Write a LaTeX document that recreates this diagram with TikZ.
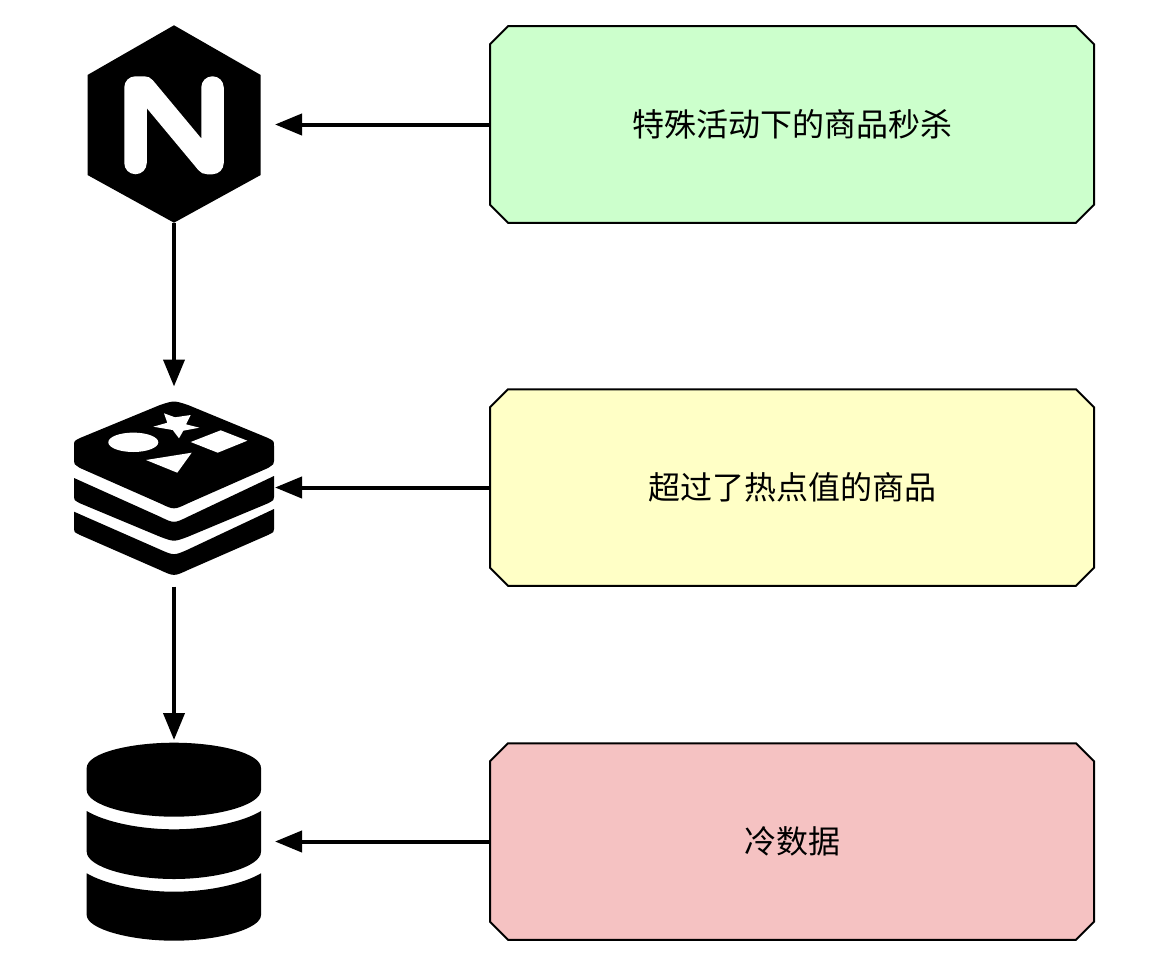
\documentclass[tikz,border=0pt]{standalone}
\usepackage{fontspec}
\usepackage{xcolor}
\usetikzlibrary{arrows.meta,shapes.misc}
\newfontfamily\cjkfont{Noto Sans CJK SC}
\definecolor{hotgreen}{HTML}{CCFFCC}
\definecolor{hotyellow}{HTML}{FFFFC6}
\definecolor{hotred}{HTML}{F5C2C2}

\begin{document}
\begin{tikzpicture}[x=1pt,y=-1pt,
    tagbox/.style={draw,line width=2pt,chamfered rectangle,chamfered rectangle xsep=9pt,chamfered rectangle ysep=9pt,minimum width=604pt,minimum height=196.5pt,inner sep=0pt,outer sep=0pt,font=\cjkfont\fontsize{32}{38}\selectfont},
    iconbox/.style={inner sep=0pt,outer sep=0pt,minimum width=202pt},
    flow/.style={line width=4pt,-{Triangle[length=27pt,width=21pt]}}]
\useasboundingbox (0,0) rectangle (1150,974);

% nginx
\node[iconbox,minimum height=196pt] (nginx) at (174,124.5) {};
\fill (174,25.3) -- (260.7,75) -- (260.7,175) -- (174,222.7) -- (87.5,175) -- (87.5,75) -- cycle;
\draw[white,line width=22.5pt,line cap=round,line join=round] (135.5,163) -- (135.5,87.5) -- (144.2,87.5) -- (207.1,163) -- (212.5,163) -- (212.5,87.5);

% redis
\node[iconbox,minimum height=200pt] (redis) at (174,486.5) {};
\fill (74,446) .. controls (74,441) .. (80,438) -- (160,405) .. controls (174,400.4) .. (188,405) -- (268,438) .. controls (274,441) .. (274,446) -- (274,461) .. controls (274,464) .. (268,468) -- (188,503.3) .. controls (174,510) .. (160,503.3) -- (80,468) .. controls (74,464) .. (74,461) -- cycle;
\fill (74,478) -- (160,516.7) .. controls (174,523.5) .. (188,516.7) -- (274,476) -- (274,497) .. controls (274,500) .. (268,503.3) -- (188,536.7) .. controls (174,542) .. (160,536.7) -- (80,503.3) .. controls (74,500) .. (74,497) -- cycle;
\fill (74,511.7) -- (160,549.5) .. controls (174,555.7) .. (188,549.5) -- (274,509) -- (274,529) .. controls (274,532) .. (268,535) -- (188,570) .. controls (174,576.5) .. (160,570) -- (80,535) .. controls (74,532) .. (74,529) -- cycle;
\fill[white] (164,413.3) -- (175,417.3) -- (190.7,415) -- (186,424.3) -- (199.3,427.7) -- (183.3,430.7) -- (179,438.3) -- (172.7,430) -- (153.3,426.7) -- (167.3,422.7) -- cycle;
\fill[white] (133.3,442.3) ellipse [x radius=25,y radius=9.7];
\fill[white] (220.7,430.3) -- (247.3,440.7) -- (217.7,452.7) -- (190.7,442) -- cycle;
\fill[white] (191.7,452.7) -- (177.3,472.7) -- (146,460) -- cycle;

% database
\node[iconbox,minimum height=204pt] (db) at (174,842) {};
\fill (86.7,768) .. controls (86.7,753) and (130,742.7) .. (174,742.7) .. controls (218,742.7) and (261,753) .. (261,768) -- (261,790) .. controls (261,805) and (218,816.7) .. (174,816.7) .. controls (130,816.7) and (86.7,805) .. (86.7,790) -- cycle;
\fill (86.7,811) .. controls (105,822) and (140,829.3) .. (174,829.3) .. controls (208,829.3) and (243,822) .. (261,811) -- (261,851.7) .. controls (261,867) and (218,879) .. (174,879) .. controls (130,879) and (86.7,867) .. (86.7,851.7) -- cycle;
\fill (86.7,873.3) .. controls (105,884) and (140,891.7) .. (174,891.7) .. controls (208,891.7) and (243,884) .. (261,873.3) -- (261,915) .. controls (261,929) and (218,940.7) .. (174,940.7) .. controls (130,940.7) and (86.7,929) .. (86.7,915) -- cycle;

% labels
\node[tagbox,fill=hotgreen] (sale) at (792,124.5) {特殊活动下的商品秒杀};
\node[tagbox,fill=hotyellow] (hot) at (792,487.5) {超过了热点值的商品};
\node[tagbox,fill=hotred] (cold) at (792,841.5) {冷数据};

\draw[flow] (sale.west) -- (sale.west -| nginx.east);
\draw[flow] (hot.west) -- (hot.west -| redis.east);
\draw[flow] (cold.west) -- (cold.west -| db.east);
\draw[flow] (nginx.south) -- (redis.north);
\draw[flow] (redis.south) -- (db.north);
\end{tikzpicture}
\end{document}
